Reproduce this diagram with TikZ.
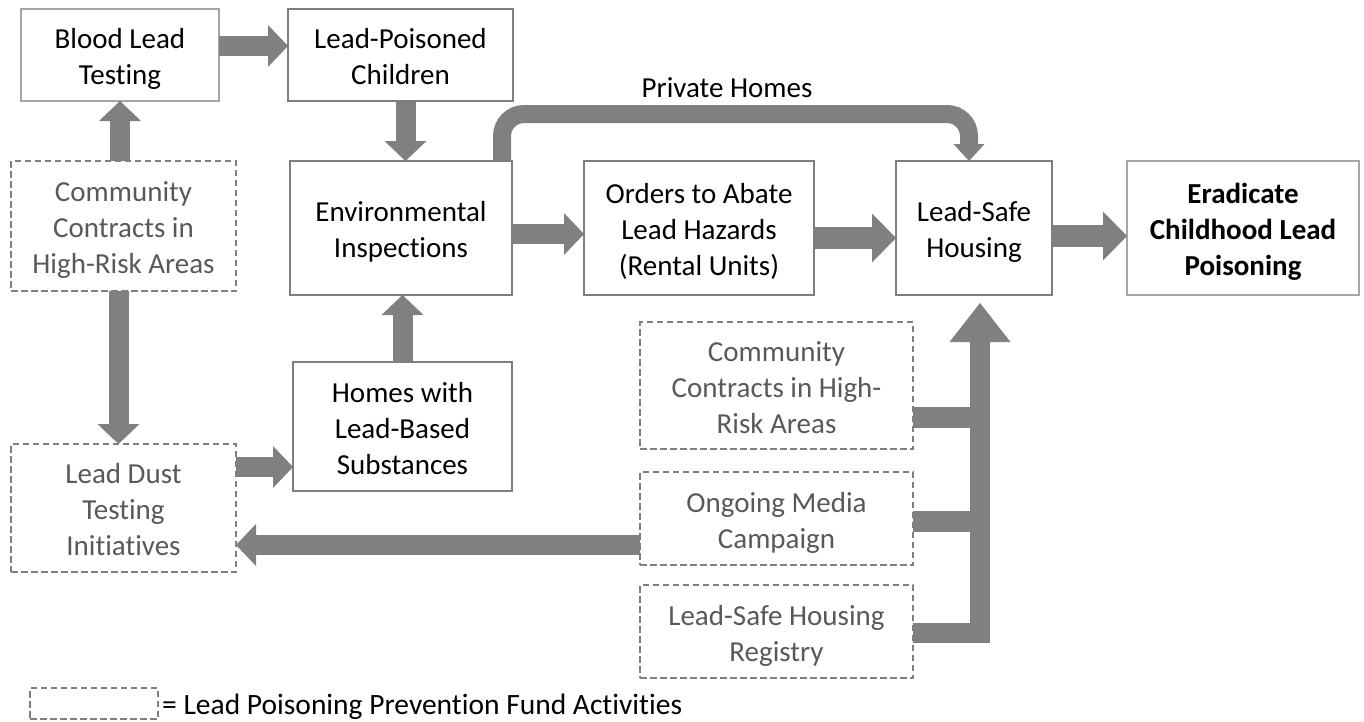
\documentclass[tikz,border=0pt]{standalone}
\usepackage{fontspec}
\setmainfont{Carlito}[Ligatures={TeX,NoCommon}]
\usetikzlibrary{arrows.meta}
\definecolor{arrowgray}{HTML}{808080}
\definecolor{boxgray}{HTML}{7F7F7F}
\definecolor{lightgray}{HTML}{A6A6A6}
\definecolor{fundtext}{HTML}{595959}
\newcommand{\boxtext}[1]{\raisebox{-4.5pt}[\height][\depth]{\begin{tabular}{@{}c@{}}#1\end{tabular}}}
\tikzset{
  basebox/.style={rectangle, inner sep=0pt, outer sep=0pt, align=center, fill=white,
    font=\fontsize{29}{36}\selectfont},
  mainbox/.style={basebox, draw=boxgray, line width=1.8pt, text=black},
  lightbox/.style={basebox, draw=lightgray, line width=1.8pt, text=black},
  fundbox/.style={basebox, draw=boxgray, line width=1.6pt, dash pattern=on 6.5pt off 3.5pt, text=fundtext},
  flow/.style={draw=arrowgray, line width=20pt, -{Triangle[width=42pt,length=20pt,line width=0pt]}},
  flowwide/.style={draw=arrowgray, line width=22pt, -{Triangle[width=49pt,length=24pt,line width=0pt]}},
  flowthin/.style={draw=arrowgray, line width=18pt, rounded corners=22pt, -{Triangle[width=31pt,length=17pt,line width=0pt]}},
  flowbig/.style={draw=arrowgray, line width=20pt, line join=miter, -{Triangle[width=61pt,length=39pt,line width=0pt]}},
  branch/.style={draw=arrowgray, line width=21pt},
  plain/.style={font=\fontsize{29}{36}\selectfont, inner sep=0pt}
}
\begin{document}
\begin{tikzpicture}[x=1pt,y=-1pt]
\path[use as bounding box, fill=white] (0,0) rectangle (1364,721);

% main boxes
\node[lightbox, minimum width=198pt, minimum height=92pt] (blt) at (120,55) {\boxtext{Blood Lead\\Testing}};
\node[mainbox, minimum width=225pt, minimum height=92pt] (lpc) at (400.5,55) {\boxtext{Lead-Poisoned\\Children}};
\node[mainbox, minimum width=222pt, minimum height=134pt] (ei) at (401,228) {\boxtext{Environmental\\Inspections}};
\node[mainbox, minimum width=230pt, minimum height=134pt] (ord) at (699,228) {\boxtext{Orders to Abate\\Lead Hazards\\(Rental Units)}};
\node[mainbox, minimum width=156pt, minimum height=134pt] (lsh) at (974,228) {\boxtext{Lead-Safe\\Housing}};
\node[lightbox, minimum width=232pt, minimum height=134pt, font=\fontsize{29}{36}\selectfont\bfseries] (era) at (1243,228) {\boxtext{Eradicate\\Childhood Lead\\Poisoning}};
\node[mainbox, minimum width=219pt, minimum height=129pt] (hom) at (402.5,426.5) {\boxtext{Homes with\\Lead-Based\\Substances}};

% fund activity boxes
\node[fundbox, minimum width=225pt, minimum height=130pt] (cc1) at (123.5,226) {\boxtext{Community\\Contracts in\\High-Risk Areas}};
\node[fundbox, minimum width=225pt, minimum height=128pt] (ldt) at (123.5,508) {\boxtext{Lead Dust\\Testing\\Initiatives}};
\node[fundbox, minimum width=273pt, minimum height=127pt] (cc2) at (776.5,385.5) {\boxtext{Community\\Contracts in High-\\Risk Areas}};
\node[fundbox, minimum width=273pt, minimum height=93pt] (med) at (776.5,518.5) {\boxtext{Ongoing Media\\Campaign}};
\node[fundbox, minimum width=273pt, minimum height=93pt] (reg) at (776.5,631.5) {\boxtext{Lead-Safe Housing\\Registry}};

% legend
\node[fundbox, minimum width=128pt, minimum height=31pt] (leg) at (94,703.5) {};
\node[plain, anchor=west, font=\fontsize{29.5}{36}\selectfont] (legtext) at (162,707) {= Lead Poisoning Prevention Fund Activities};

% label
\node[plain] (phlabel) at (727,88) {Private Homes};

% connectors
\draw[flow] ([yshift=9pt]blt.east) -- ([yshift=9pt]lpc.west);
\draw[flow] ([xshift=-3.5pt]cc1.north) -- (blt.south);
\draw[flow] ([xshift=-5pt]cc1.south) -- ([xshift=-5pt]ldt.north);
\draw[flow] ([xshift=5pt]lpc.south) -- ([xshift=4.5pt]ei.north);
\draw[flow] (hom.north) -- ([xshift=1.5pt]ei.south);
\draw[flow] ([yshift=-6pt]ei.east) -- ([yshift=-6pt]ord.west);
\draw[flowwide] ([yshift=-10pt]ord.east) -- ([yshift=-10pt]lsh.west);
\draw[flowwide] ([yshift=-8pt]lsh.east) -- ([yshift=-8pt]era.west);
\draw[flow] ([yshift=41pt]ldt.east) -- ([yshift=-40.5pt]hom.west);
\draw[flow] ([yshift=-26.5pt]med.west) -- ([yshift=-37pt]ldt.east);

% private homes
\coordinate (ph) at (727,114);
\draw[flowthin] ([xshift=101pt]ei.north) |- (ph) -| ([xshift=-5pt]lsh.north);

% collector into lead-safe housing
\coordinate (jc) at (980,417);
\coordinate (jm) at (980,521);
\coordinate (jr) at (980,633);
\draw[branch] (cc2.east |- jc) -- (jc);
\draw[branch] (med.east |- jm) -- (jm);
\draw[flowbig, shorten >=8pt] (reg.east |- jr) -- (jr) -- (lsh.south -| jr);
\end{tikzpicture}
\end{document}
